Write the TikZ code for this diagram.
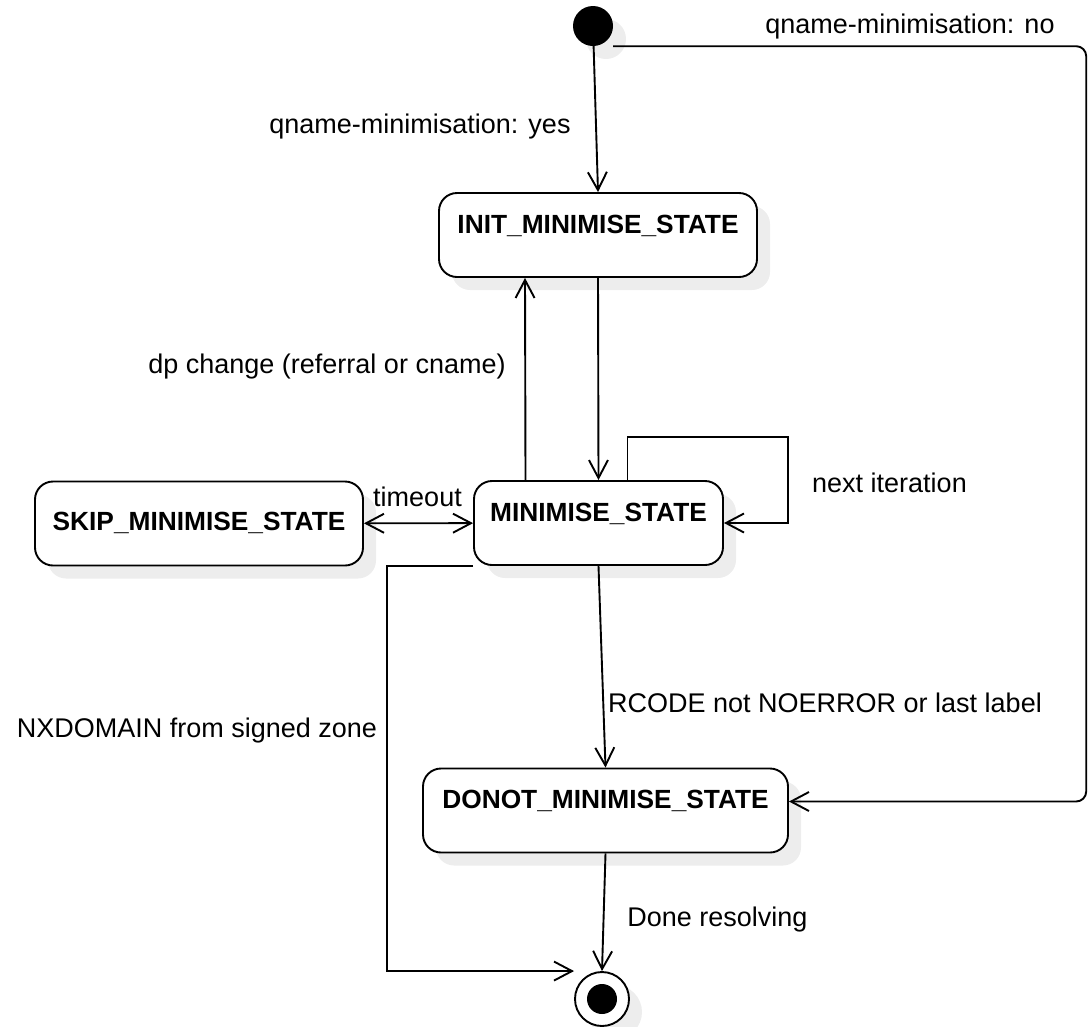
\documentclass[tikz,border=0pt]{standalone}
\usepackage{fontspec}
\setmainfont{Liberation Sans}
\usetikzlibrary{arrows.meta,shadows}

\begin{document}
\begin{tikzpicture}[x=1pt, y=-1pt,
  openv/.tip={Straight Barb[length=18pt,width=19pt]},
  arr/.style={-openv, line width=1.9pt},
  twoway/.style={openv-openv, line width=1.9pt},
  boxshadow/.style={drop shadow={shadow xshift=13pt, shadow yshift=-13pt, fill=black!7, opacity=1}},
  statebox/.style={rectangle, rounded corners=18pt, draw=black, fill=white, line width=1.9pt, inner sep=0pt, text height=40pt, text depth=44pt, font=\fontsize{26.3}{31}\selectfont\bfseries, boxshadow},
  lbl/.style={anchor=base, inner sep=0pt, font=\fontsize{27}{32}\selectfont}]
\useasboundingbox (0,0) rectangle (1091,1026);

\node (start) [circle, fill=black, minimum size=40pt, inner sep=0pt, boxshadow] at (593,26) {};
\node (init) [statebox, minimum width=318pt] at (598,235) {INIT\_MINIMISE\_STATE};
\node (skip) [statebox, minimum width=328pt, text height=49pt, text depth=35pt] at (199,523.5) {SKIP\_MINIMISE\_STATE};
\node (mini) [statebox, minimum width=249pt] at (598.5,523) {MINIMISE\_STATE};
\node (donot) [statebox, minimum width=365pt] at (605.5,810.5) {DONOT\_MINIMISE\_STATE};
\node (final) [circle, draw=black, fill=white, line width=1.9pt, minimum size=54pt, inner sep=0pt, boxshadow,
  path picture={\fill[black] (path picture bounding box.center) circle (15pt);}] at (602,999) {};

% transitions
\draw[arr] (start) -- (init.north);
\draw[arr, rounded corners=10pt] (start.south -| start.east) -- ++(473,0) |- ([yshift=9pt]donot.east);
\draw[arr] ([xshift=-73pt]mini.north) -- ([xshift=-73pt]init.south);
\draw[arr] (init.south) -- (mini.north);
\draw[arr] ([xshift=29pt]mini.north) -- ++(0,-43) -| ([xshift=64pt]mini.east) -- (mini.east);
\draw[twoway] (skip) -- (mini);
\draw[arr] (mini.south) -- (donot.north);
\draw[arr] (mini.south west) -- ++(-86,0) |- (final.north -| final.west);
\draw[arr] (donot.south) -- (final.north);

% labels
\node (yes) [lbl] at (420,133) {qname-minimisation: yes};
\node (no) [lbl] at (910,33) {qname-minimisation: no};
\node (dpchange) [lbl] at (327,373) {dp change (referral or cname)};
\node (timeout) [lbl] at (417.5,506) {timeout};
\node (nextit) [lbl] at (889.5,492) {next iteration};
\node (rcode) [lbl] at (825,712) {RCODE not NOERROR or last label};
\node (nxdomain) [lbl] at (197,737) {NXDOMAIN from signed zone};
\node (done) [lbl] at (717.5,926) {Done resolving};
\end{tikzpicture}
\end{document}
